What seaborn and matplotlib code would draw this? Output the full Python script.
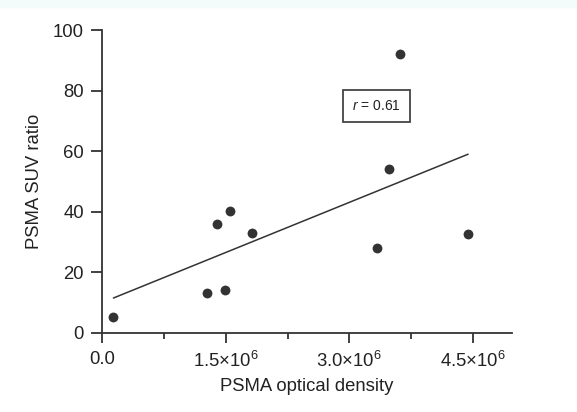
import numpy as np
import pandas as pd
import matplotlib
matplotlib.use("Agg")
import matplotlib.pyplot as plt
import seaborn as sns
from matplotlib.patches import Rectangle
from matplotlib.ticker import FixedLocator

# optical density vs SUV ratio
optical_density = [0.137e6, 1.27e6, 1.49e6, 1.395e6, 1.552e6, 1.815e6,
                   3.34e6, 3.48e6, 3.61e6, 4.44e6]
suv_ratio = [5.2, 13.1, 14.2, 36.0, 40.2, 33.1, 28.0, 54.2, 92.1, 32.6]
x_ticks = [0.0, 1.5e6, 3.0e6, 4.5e6]
x_ticklabels = ["0.0", r"$\mathregular{1.5{\times}10^6}$",
                r"$\mathregular{3.0{\times}10^6}$", r"$\mathregular{4.5{\times}10^6}$"]
x_minor = [0.75e6, 2.25e6, 3.75e6]
y_ticks = [0, 20, 40, 60, 80, 100]

sns.set_style("ticks")
plt.rcParams['font.family'] = ['Liberation Sans', 'DejaVu Sans']
plt.rcParams['mathtext.fontset'] = 'custom'
plt.rcParams['mathtext.rm'] = 'Liberation Sans'
plt.rcParams['mathtext.it'] = 'Liberation Sans:italic'

df = pd.DataFrame({"od": optical_density, "suv": suv_ratio})
r = np.corrcoef(df.od, df.suv)[0, 1]

fig = plt.figure(figsize=(5.77, 4.12), dpi=100)
fig.patches.append(Rectangle((0, 0.983), 1, 0.017, transform=fig.transFigure,
                             color="#f3fcfb", zorder=0))
ax = fig.add_axes([0.177, 0.192, 0.71, 0.735])

txt = "#222222"
sns.regplot(data=df, x="od", y="suv", ax=ax, ci=None,
            scatter_kws=dict(s=50, color="black", linewidths=0, zorder=3),
            line_kws=dict(color="#333333", lw=1.1))

ax.set_xlim(0, 4.97e6)
ax.set_ylim(0, 100)
ax.set_xticks(x_ticks)
ax.set_xticklabels(x_ticklabels)
ax.xaxis.set_minor_locator(FixedLocator(x_minor))
ax.set_yticks(y_ticks)
ax.tick_params(axis="both", which="major", labelsize=13.3, colors="#333333",
               labelcolor=txt, width=1.3, length=8, pad=5)
ax.tick_params(axis="x", which="minor", width=1.3, length=4, colors="#333333")
ax.tick_params(axis="x", which="major", length=7, pad=6)
for s in ["left", "bottom"]:
    ax.spines[s].set_linewidth(1.3)
    ax.spines[s].set_color("#333333")
sns.despine(ax=ax)

ax.set_xlabel("PSMA optical density", fontsize=13.3, color=txt, labelpad=5)
ax.set_ylabel("PSMA SUV ratio", fontsize=13.3, color=txt, labelpad=7)

ax.text(3.33e6, 75, rf"$\it{{r}}$ = {r:.2f}", fontsize=10, color=txt,
        ha="center", va="center",
        bbox=dict(boxstyle="square,pad=0.65", fc="white", ec="#444444", lw=1.3))

fig.savefig("out.png", dpi=100)
